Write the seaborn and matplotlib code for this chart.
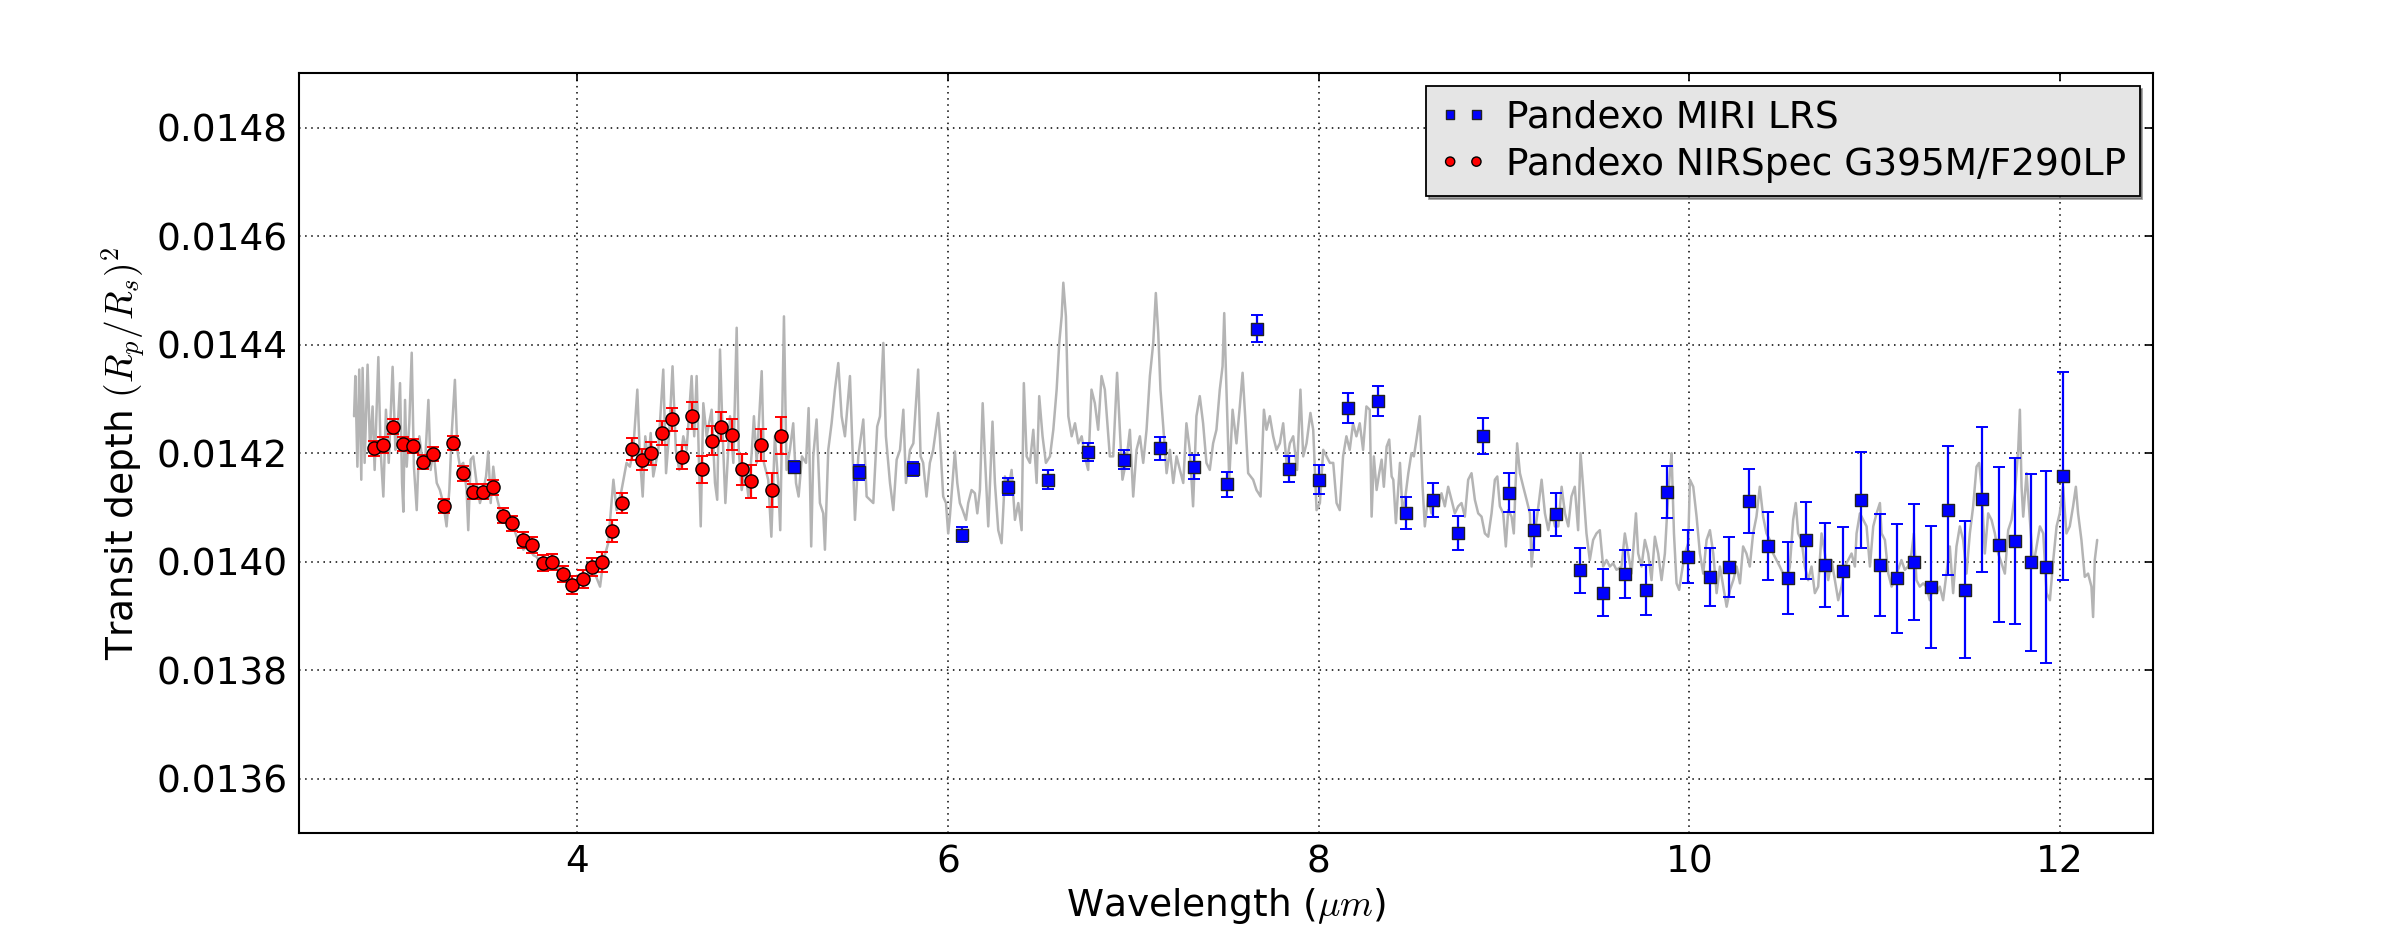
import numpy as np
import pandas as pd
import seaborn as sns
import matplotlib
matplotlib.use("Agg")
import matplotlib.pyplot as plt
from matplotlib.ticker import FormatStrFormatter

# model spectrum (gray line), wavelength in micron, depth in units of 1e-6
model_wavelength = [
    2.797, 2.804, 2.815, 2.825, 2.836, 2.843, 2.854, 2.870, 2.883, 2.897,
    2.908, 2.928, 2.940, 2.955, 2.969, 2.984, 3.005, 3.020, 3.030, 3.045,
    3.056, 3.063, 3.072, 3.081, 3.095, 3.108, 3.120, 3.135, 3.149, 3.163,
    3.180, 3.198, 3.210, 3.225, 3.243, 3.260, 3.278, 3.296, 3.311, 3.323,
    3.341, 3.354, 3.368, 3.386, 3.404, 3.413, 3.426, 3.440, 3.458, 3.476,
    3.494, 3.509, 3.521, 3.534, 3.548, 3.566, 3.584, 3.602, 3.620, 3.638,
    3.656, 3.674, 3.692, 3.710, 3.728, 3.746, 3.764, 3.782, 3.800, 3.818,
    3.836, 3.854, 3.872, 3.890, 3.908, 3.926, 3.944, 3.962, 3.980,
    4.016, 4.052, 4.088, 4.124, 4.142, 4.168, 4.196, 4.213, 4.240, 4.267,
    4.285, 4.303, 4.325, 4.339, 4.354, 4.368, 4.384, 4.397, 4.411, 4.438,
    4.465, 4.480, 4.498, 4.515, 4.533, 4.551, 4.573, 4.591, 4.618, 4.632,
    4.645, 4.667, 4.681, 4.699, 4.726, 4.744, 4.756, 4.771, 4.785, 4.800,
    4.825, 4.843, 4.861, 4.872, 4.888, 4.906, 4.924, 4.942, 4.954, 4.969,
    4.996, 5.008, 5.031, 5.048, 5.067, 5.085, 5.096, 5.116, 5.130, 5.148,
    5.166, 5.181, 5.195, 5.213, 5.235, 5.249, 5.263, 5.274, 5.292, 5.310,
    5.328, 5.337, 5.355, 5.373, 5.391, 5.409, 5.427, 5.445, 5.472,
    5.499, 5.517, 5.544, 5.562, 5.598, 5.619, 5.634, 5.652, 5.666, 5.688,
    5.706, 5.724, 5.742, 5.760, 5.774, 5.796, 5.814, 5.840, 5.853, 5.867,
    5.885, 5.903, 5.921, 5.948, 5.957, 5.975, 5.990, 6.002, 6.011, 6.038,
    6.051, 6.065, 6.080, 6.098, 6.110, 6.128, 6.146, 6.159, 6.173, 6.188,
    6.200, 6.218, 6.241, 6.254, 6.272, 6.290, 6.308, 6.326, 6.344, 6.362,
    6.380, 6.398, 6.410, 6.425, 6.443, 6.461, 6.479, 6.493, 6.511, 6.529,
    6.551, 6.569, 6.587, 6.601, 6.614, 6.623, 6.637, 6.650, 6.668, 6.686,
    6.704, 6.722, 6.739, 6.757, 6.775, 6.793, 6.811, 6.829, 6.847, 6.874,
    6.892, 6.913, 6.928, 6.942, 6.964, 6.982, 7.000, 7.018, 7.036, 7.054,
    7.072, 7.090, 7.108, 7.122, 7.135, 7.147, 7.162, 7.180, 7.198, 7.216,
    7.234, 7.252, 7.270, 7.287, 7.305, 7.323, 7.341, 7.359, 7.377, 7.395,
    7.413, 7.431, 7.449, 7.467, 7.482, 7.491, 7.503, 7.518, 7.536, 7.557,
    7.575, 7.590, 7.604, 7.620, 7.647, 7.665, 7.687, 7.705, 7.719, 7.737,
    7.755, 7.773, 7.791, 7.809, 7.827, 7.845, 7.863, 7.884, 7.902, 7.917,
    7.935, 7.956, 7.971, 7.989, 8.007, 8.025, 8.043, 8.061, 8.079, 8.097,
    8.114, 8.132, 8.150, 8.168, 8.186, 8.204, 8.222, 8.240, 8.258, 8.276,
    8.286, 8.298, 8.313, 8.327, 8.340, 8.352, 8.367, 8.381, 8.394, 8.403,
    8.417, 8.430, 8.439, 8.453, 8.466, 8.484, 8.501, 8.514, 8.528, 8.546,
    8.561, 8.573, 8.591, 8.609, 8.627, 8.645, 8.663, 8.681, 8.699, 8.717,
    8.735, 8.753, 8.771, 8.789, 8.807, 8.825, 8.843, 8.861, 8.879, 8.897,
    8.915, 8.933, 8.951, 8.964, 8.978, 8.996, 9.010, 9.023, 9.041, 9.053,
    9.071, 9.086, 9.104, 9.122, 9.140, 9.149, 9.161, 9.176, 9.190, 9.203,
    9.221, 9.239, 9.257, 9.275, 9.293, 9.311, 9.329, 9.347, 9.364, 9.382,
    9.400, 9.413, 9.427, 9.445, 9.463, 9.481, 9.499, 9.517, 9.535, 9.553,
    9.571, 9.589, 9.607, 9.634, 9.652, 9.670, 9.688, 9.712, 9.724, 9.742,
    9.760, 9.778, 9.796, 9.814, 9.832, 9.850, 9.868, 9.881, 9.895, 9.904,
    9.917, 9.931, 9.945, 9.958, 9.976, 9.994, 10.003, 10.021, 10.039, 10.057,
    10.075, 10.093, 10.111, 10.129, 10.147, 10.165, 10.183, 10.201, 10.219, 10.237,
    10.255, 10.273, 10.290, 10.308, 10.326, 10.344, 10.362, 10.380,
    10.398, 10.416, 10.434, 10.452, 10.470, 10.488, 10.506, 10.524, 10.542, 10.560,
    10.574, 10.587, 10.605, 10.623, 10.641, 10.659, 10.677, 10.695, 10.713, 10.731,
    10.749, 10.767, 10.785, 10.803, 10.821, 10.839, 10.857, 10.875, 10.893, 10.902,
    10.920, 10.938, 10.956, 10.974, 10.992, 11.010, 11.028, 11.037, 11.055, 11.073,
    11.091, 11.108, 11.126, 11.144, 11.162, 11.180, 11.198, 11.211, 11.225, 11.243,
    11.261, 11.279, 11.297, 11.315, 11.333, 11.351, 11.369, 11.387, 11.405, 11.423,
    11.441, 11.459, 11.477, 11.495, 11.513, 11.531, 11.549, 11.563, 11.576, 11.594,
    11.612, 11.630, 11.648, 11.666, 11.684, 11.702, 11.720, 11.738, 11.756, 11.774,
    11.783, 11.792, 11.801, 11.819, 11.837, 11.855, 11.873, 11.891, 11.909, 11.927,
    11.945, 11.963, 11.981, 11.998, 12.016, 12.034, 12.052, 12.070, 12.085, 12.097,
    12.115, 12.133, 12.151, 12.169, 12.178, 12.187, 12.200,
]
model_depth_ppm = [
    14268, 14342, 14175, 14354, 14151, 14357, 14182, 14363, 14206, 14286,
    14169, 14377, 14206, 14120, 14280, 14182, 14359, 14206, 14231, 14329,
    14145, 14092, 14298, 14175, 14255, 14385, 14175, 14095, 14231, 14194,
    14182, 14298, 14169, 14206, 14145, 14132, 14108, 14065, 14132, 14231,
    14335, 14206, 14175, 14182, 14132, 14058, 14188, 14194, 14145, 14108,
    14132, 14157, 14203, 14108, 14175, 14120, 14095, 14083, 14071, 14058,
    14065, 14046, 14040, 14022, 14028, 14022, 14012, 14009, 14000, 14006,
    13997, 14000, 13994, 13985, 13991, 13975, 13985, 13966, 13960,
    13960, 13966, 13985, 13954, 14003, 14034, 14151, 14095, 14132, 14182,
    14175, 14206, 14317, 14194, 14120, 14231, 14182, 14237, 14157, 14206,
    14354, 14163, 14243, 14360, 14206, 14169, 14231, 14206, 14342, 14231,
    14342, 14065, 14292, 14231, 14280, 14145, 14114, 14391, 14237, 14108,
    14268, 14182, 14431, 14206, 14132, 14175, 14120, 14200, 14268, 14182,
    14351, 14182, 14151, 14046, 14231, 14145, 14058, 14452, 14169, 14206,
    14255, 14145, 14120, 14194, 14182, 14283, 14028, 14194, 14262, 14108,
    14089, 14022, 14206, 14255, 14317, 14366, 14268, 14231, 14342,
    14077, 14194, 14262, 14120, 14108, 14249, 14268, 14403, 14231, 14145,
    14095, 14188, 14206, 14280, 14145, 14206, 14218, 14354, 14194, 14182,
    14120, 14182, 14206, 14274, 14231, 14120, 14108, 14052, 14083, 14203,
    14145, 14108, 14095, 14077, 14108, 14132, 14126, 14089, 14132, 14292,
    14194, 14065, 14258, 14145, 14058, 14034, 14157, 14132, 14169, 14077,
    14108, 14058, 14329, 14194, 14182, 14243, 14145, 14305, 14231, 14182,
    14194, 14243, 14317, 14403, 14452, 14514, 14452, 14268, 14231, 14255,
    14218, 14231, 14194, 14169, 14317, 14292, 14243, 14342, 14317, 14194,
    14194, 14348, 14243, 14151, 14188, 14243, 14120, 14206, 14231, 14182,
    14243, 14342, 14403, 14495, 14422, 14317, 14249, 14163, 14206, 14145,
    14194, 14169, 14145, 14255, 14206, 14102, 14268, 14305, 14255, 14182,
    14169, 14218, 14243, 14317, 14360, 14458, 14317, 14151, 14280, 14218,
    14286, 14348, 14268, 14163, 14151, 14132, 14120, 14280, 14243, 14268,
    14231, 14206, 14218, 14255, 14182, 14218, 14231, 14169, 14317, 14194,
    14218, 14274, 14243, 14095, 14108, 14206, 14194, 14182, 14182, 14108,
    14095, 14194, 14231, 14206, 14255, 14231, 14255, 14206, 14286, 14280,
    14083, 14194, 14132, 14163, 14188, 14138, 14212, 14225, 14157, 14151,
    14071, 14138, 14182, 14089, 14114, 14163, 14200, 14194, 14225, 14268,
    14138, 14065, 14120, 14089, 14114, 14102, 14126, 14102, 14138, 14114,
    14089, 14102, 14108, 14083, 14151, 14163, 14114, 14089, 14083, 14052,
    14046, 14089, 14151, 14157, 14102, 14089, 14028, 14095, 14083, 14052,
    14218, 14163, 14138, 14114, 14089, 13991, 14040, 14077, 14114, 14151,
    14089, 14058, 14095, 14065, 14065, 14138, 14089, 14065, 14120, 14138,
    14058, 14200, 14138, 14052, 14003, 14040, 14052, 14058, 13991, 14003,
    13991, 13997, 13985, 13991, 14052, 14015, 13978, 14089, 14015, 13991,
    14040, 14015, 13966, 14046, 14015, 13966, 14015, 14095, 14163, 14200,
    14052, 13960, 13948, 13978, 14015, 14034, 14151, 14138, 14083, 14015,
    13978, 14040, 14058, 14015, 13942, 13991, 13954, 13917, 13948, 13966,
    13991, 13960, 14028, 14015, 13991, 14052, 14083, 14138,
    14083, 14052, 14040, 14015, 14003, 13991, 13978, 13960, 13991, 14077,
    14108, 14052, 14040, 13991, 13966, 13991, 13942, 13954, 14052, 14015,
    13966, 14003, 13966, 13929, 13954, 13991, 14003, 14015, 13991, 14052,
    14089, 14077, 14065, 13991, 14065, 14089, 14108, 14052, 14040, 13978,
    13954, 13966, 13985, 14003, 13985, 13991, 14015, 14052, 13966, 13954,
    13960, 13954, 13929, 13954, 13942, 13954, 13929, 13978, 14028, 13942,
    14028, 14065, 14040, 13978, 14052, 14102, 14175, 14182, 14138, 14015,
    14089, 14077, 14052, 14015, 13997, 13978, 14058, 14077, 14126, 14206,
    14280, 14138, 14083, 14163, 14077, 13991, 14028, 14065, 14052, 13942,
    13929, 14003, 14065, 14089, 14138, 14052, 14065, 14102, 14138, 14089,
    14040, 13972, 13978, 13954, 13898, 14003, 14040,
]

# Pandexo NIRSpec G395M/F290LP
nirspec_wl = [2.902, 2.952, 3.009, 3.060, 3.117, 3.167, 3.224, 3.282, 3.330, 3.387,
              3.438, 3.493, 3.545, 3.601, 3.651, 3.708, 3.758, 3.816, 3.866, 3.923,
              3.973, 4.030, 4.081, 4.136, 4.186, 4.244, 4.294, 4.349, 4.401, 4.457,
              4.514, 4.564, 4.622, 4.672, 4.729, 4.779, 4.836, 4.887, 4.937, 4.992,
              5.050, 5.100]
nirspec_depth = [0.014209, 0.014215, 0.014249, 0.014217, 0.014213, 0.014183, 0.014198, 0.014102, 0.014219, 0.014163,
                 0.014129, 0.014129, 0.014137, 0.014085, 0.014071, 0.014040, 0.014031, 0.013997, 0.013999, 0.013977,
                 0.013957, 0.013968, 0.013990, 0.013999, 0.014056, 0.014108, 0.014208, 0.014188, 0.014200, 0.014237,
                 0.014262, 0.014193, 0.014269, 0.014170, 0.014223, 0.014249, 0.014234, 0.014170, 0.014148, 0.014215,
                 0.014132, 0.014232]
nirspec_err = [1.4e-5, 1.4e-5, 1.3e-5, 1.3e-5, 1.3e-5, 1.3e-5, 1.3e-5, 1.3e-5, 1.3e-5, 1.4e-5,
               1.4e-5, 1.4e-5, 1.4e-5, 1.4e-5, 1.4e-5, 1.5e-5, 1.5e-5, 1.5e-5, 1.5e-5, 1.5e-5,
               1.6e-5, 1.6e-5, 1.7e-5, 1.8e-5, 2.0e-5, 1.9e-5, 2.0e-5, 2.0e-5, 2.1e-5, 2.2e-5,
               2.2e-5, 2.2e-5, 2.5e-5, 2.5e-5, 2.7e-5, 2.6e-5, 2.9e-5, 2.9e-5, 3.1e-5, 3.0e-5,
               3.2e-5, 3.4e-5]

# Pandexo MIRI LRS
miri_wl = [5.171, 5.521, 5.813, 6.079, 6.323, 6.542, 6.757, 6.949, 7.143, 7.329,
           7.507, 7.670, 7.842, 8.000, 8.156, 8.318, 8.469, 8.617, 8.753, 8.889,
           9.026, 9.160, 9.282, 9.409, 9.532, 9.653, 9.767, 9.882, 9.995, 10.109,
           10.215, 10.324, 10.423, 10.530, 10.630, 10.731, 10.829, 10.925, 11.026, 11.119,
           11.211, 11.304, 11.396, 11.489, 11.576, 11.669, 11.755, 11.842, 11.926, 12.013]
miri_depth = [0.014175, 0.014165, 0.014170, 0.014050, 0.014138, 0.014151, 0.014202, 0.014188, 0.014209, 0.014175,
              0.014143, 0.014429, 0.014170, 0.014151, 0.014283, 0.014296, 0.014090, 0.014114, 0.014053, 0.014231,
              0.014127, 0.014058, 0.014087, 0.013984, 0.013943, 0.013977, 0.013948, 0.014128, 0.014009, 0.013972,
              0.013990, 0.014112, 0.014029, 0.013970, 0.014039, 0.013994, 0.013982, 0.014114, 0.013994, 0.013969,
              0.013999, 0.013953, 0.014095, 0.013948, 0.014115, 0.014031, 0.014038, 0.013999, 0.013990, 0.014158]
miri_err = [1.1e-5, 1.4e-5, 1.3e-5, 1.4e-5, 1.6e-5, 1.7e-5, 1.7e-5, 1.8e-5, 2.1e-5, 2.2e-5,
            2.3e-5, 2.5e-5, 2.4e-5, 2.7e-5, 2.8e-5, 2.8e-5, 2.9e-5, 3.1e-5, 3.2e-5, 3.3e-5,
            3.6e-5, 3.7e-5, 3.9e-5, 4.2e-5, 4.3e-5, 4.4e-5, 4.6e-5, 4.8e-5, 4.9e-5, 5.3e-5,
            5.5e-5, 5.9e-5, 6.3e-5, 6.6e-5, 7.1e-5, 7.7e-5, 8.2e-5, 8.8e-5, 9.4e-5, 1.00e-4,
            1.07e-4, 1.13e-4, 1.19e-4, 1.26e-4, 1.34e-4, 1.43e-4, 1.53e-4, 1.63e-4, 1.77e-4, 1.91e-4]

sns.set_style("white")
plt.rcParams["font.family"] = ["DejaVu Sans"]
plt.rcParams["mathtext.fontset"] = "cm"
plt.rcParams["mathtext.default"] = "it"
plt.rcParams["text.color"] = "black"
plt.rcParams["axes.labelcolor"] = "black"
plt.rcParams["xtick.color"] = "black"
plt.rcParams["ytick.color"] = "black"

fig, ax = plt.subplots(figsize=(23.92, 9.27), dpi=100)
fig.subplots_adjust(left=0.125, right=0.9, bottom=0.1014, top=0.921)

model = pd.DataFrame({"wavelength": model_wavelength,
                      "depth": np.array(model_depth_ppm) * 1e-6})
sns.lineplot(data=model, x="wavelength", y="depth", color="#b4b4b4", lw=1.8,
             estimator=None, sort=False, ax=ax, zorder=1)

# error bars
ax.errorbar(miri_wl, miri_depth, yerr=miri_err, fmt="none", ecolor="blue",
            elinewidth=1.6, capsize=4.5, capthick=1.4, zorder=2)
ax.errorbar(nirspec_wl, nirspec_depth, yerr=nirspec_err, fmt="none", ecolor="red",
            elinewidth=1.6, capsize=4.5, capthick=1.4, zorder=2)

# markers
sns.scatterplot(x=miri_wl, y=miri_depth, marker="s", s=75, color="blue",
                edgecolor="#222222", linewidth=1.0, label="Pandexo MIRI LRS",
                zorder=3, ax=ax)
sns.scatterplot(x=nirspec_wl, y=nirspec_depth, marker="o", s=90, color="red",
                edgecolor="black", linewidth=1.0, label="Pandexo NIRSpec G395M/F290LP",
                zorder=3, ax=ax)

ax.set_xlim(2.5, 12.5)
ax.set_ylim(0.0135, 0.0149)
ax.set_xticks([4, 6, 8, 10, 12])
ax.set_yticks(np.arange(0.0136, 0.01481, 0.0002))
ax.yaxis.set_major_formatter(FormatStrFormatter("%.4f"))

ax.grid(True, color="black", linestyle=(0, (1, 3)), linewidth=1.1)
ax.set_axisbelow(True)
ax.tick_params(direction="in", top=True, right=True, length=6, width=1.2,
               labelsize=27, pad=8, colors="black")
for sp in ax.spines.values():
    sp.set_color("black")
    sp.set_linewidth(1.5)

ax.set_xlabel(r"Wavelength ($\mu m$)", fontsize=27, labelpad=4)
ax.set_ylabel(r"Transit depth $(R_p/R_s)^2$", fontsize=27, labelpad=6)

handles, labels = ax.get_legend_handles_labels()
leg = ax.legend(handles, labels, loc="upper right", scatterpoints=2,
                scatteryoffsets=[0.5], markerscale=0.7, fontsize=27,
                frameon=True, fancybox=False, shadow=True, framealpha=1,
                facecolor="#e5e5e5", edgecolor="black", borderaxespad=0.35,
                handlelength=1.3, handletextpad=0.5, borderpad=0.35,
                labelspacing=0.3)
leg.get_frame().set_linewidth(1.3)

fig.savefig("out.png", dpi=100)
